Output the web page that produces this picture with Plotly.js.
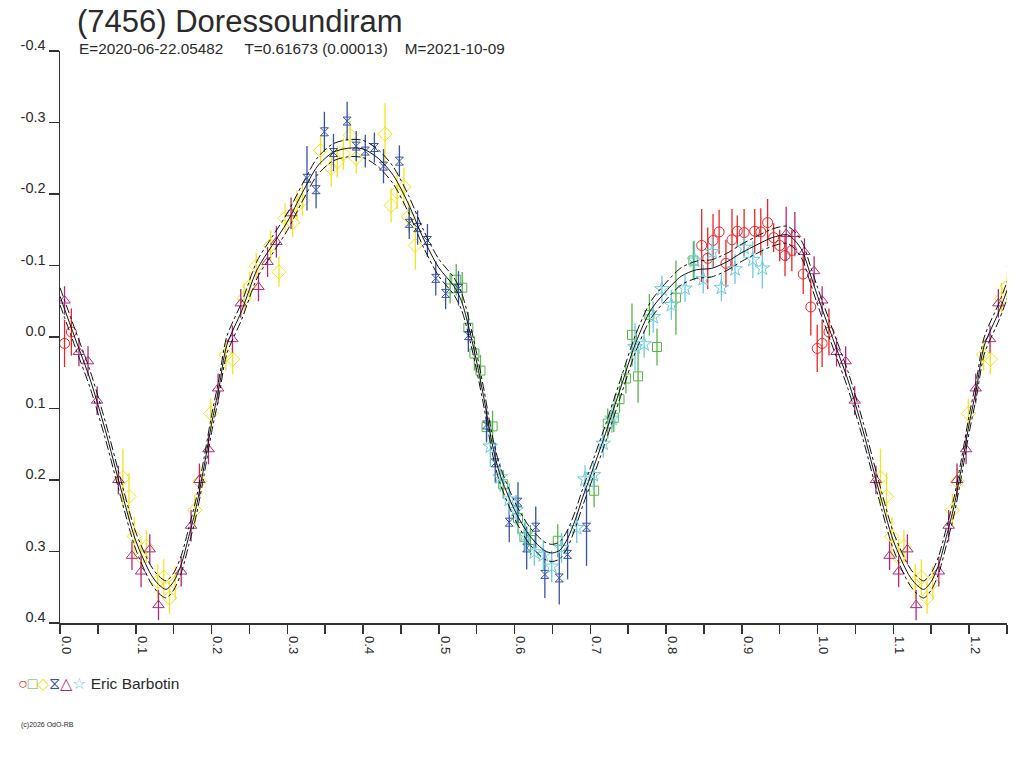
<!DOCTYPE html>
<html>
<head>
<meta charset="utf-8">
<script src="https://cdn.plot.ly/plotly-3.0.1.min.js"></script>
<style>
  body { margin: 0; background: #fff; }
  #lightcurve { width: 1024px; height: 768px; }
</style>
</head>
<body>
<div id="lightcurve"></div>
<script>
// Phase-folded light curve, phase 0..1 (points below 0.25 are repeated after 1.0)

// red circles
const redPhase = [0.006, 0.015, 0.847, 0.855, 0.862, 0.870, 0.879, 0.887, 0.894, 0.903, 0.917, 0.925, 0.934, 0.942, 0.950, 0.957, 0.966, 0.981, 0.991, 0.9995];
const redMag   = [0.009, -0.007, -0.128, -0.110, -0.135, -0.147, -0.103, -0.136, -0.148, -0.146, -0.148, -0.147, -0.160, -0.139, -0.128, -0.114, -0.121, -0.088, -0.042, 0.016];
const redErr   = [0.033, 0.033, 0.051, 0.043, 0.037, 0.031, 0.033, 0.043, 0.022, 0.033, 0.031, 0.033, 0.033, 0.020, 0.022, 0.029, 0.029, 0.028, 0.040, 0.033];

// green squares
const greenPhase = [0.515, 0.523, 0.531, 0.539, 0.547, 0.555, 0.563, 0.571, 0.585, 0.6045, 0.613, 0.621, 0.657, 0.705, 0.723, 0.731, 0.7385, 0.747, 0.755, 0.763, 0.778, 0.788, 0.813, 0.836];
const greenMag   = [-0.068, -0.080, -0.069, -0.013, 0.023, 0.047, 0.126, 0.125, 0.206, 0.253, 0.280, 0.284, 0.285, 0.215, 0.121, 0.113, 0.087, 0.058, -0.003, 0.055, -0.031, 0.014, -0.055, -0.107];
const greenErr   = [0.021, 0.022, 0.022, 0.022, 0.024, 0.022, 0.022, 0.022, 0.020, 0.023, 0.020, 0.021, 0.023, 0.023, 0.021, 0.020, 0.019, 0.021, 0.044, 0.037, 0.029, 0.026, 0.052, 0.027];

// yellow diamonds
const yellowPhase = [0.083, 0.091, 0.098, 0.107, 0.114, 0.129, 0.137, 0.1445, 0.152, 0.178, 0.1845, 0.199, 0.219, 0.228, 0.243, 0.2505, 0.259, 0.278, 0.289, 0.297, 0.307, 0.313, 0.320, 0.344, 0.358, 0.366, 0.374, 0.383, 0.391, 0.429, 0.437, 0.445, 0.454, 0.460, 0.469];
const yellowMag   = [0.197, 0.223, 0.279, 0.308, 0.293, 0.342, 0.336, 0.365, 0.344, 0.242, 0.202, 0.107, 0.025, 0.031, -0.054, -0.071, -0.099, -0.128, -0.091, -0.166, -0.160, -0.184, -0.191, -0.261, -0.236, -0.245, -0.256, -0.282, -0.250, -0.284, -0.184, -0.203, -0.210, -0.168, -0.128];
const yellowErr   = [0.041, 0.033, 0.027, 0.025, 0.023, 0.024, 0.025, 0.022, 0.023, 0.022, 0.022, 0.021, 0.022, 0.021, 0.022, 0.020, 0.019, 0.021, 0.021, 0.021, 0.020, 0.021, 0.021, 0.021, 0.026, 0.022, 0.022, 0.020, 0.021, 0.043, 0.024, 0.024, 0.027, 0.022, 0.034];

// blue hourglasses
const bluePhase = [0.326, 0.338, 0.349, 0.361, 0.379, 0.391, 0.403, 0.415, 0.427, 0.448, 0.461, 0.472, 0.485, 0.496, 0.509, 0.526, 0.539, 0.563, 0.5745, 0.593, 0.6045, 0.616, 0.628, 0.640, 0.659, 0.670, 0.695];
const blueMag   = [-0.222, -0.206, -0.287, -0.258, -0.302, -0.267, -0.260, -0.265, -0.239, -0.246, -0.159, -0.153, -0.135, -0.082, -0.061, -0.068, -0.002, 0.123, 0.176, 0.259, 0.231, 0.295, 0.266, 0.332, 0.337, 0.304, 0.266];
const blueErr   = [0.045, 0.026, 0.028, 0.026, 0.027, 0.021, 0.023, 0.021, 0.024, 0.022, 0.022, 0.024, 0.023, 0.024, 0.022, 0.024, 0.023, 0.023, 0.028, 0.028, 0.028, 0.030, 0.029, 0.033, 0.037, 0.035, 0.054];

// magenta triangles
const magentaPhase = [0.006, 0.025, 0.037, 0.049, 0.077, 0.095, 0.107, 0.1185, 0.130, 0.160, 0.173, 0.184, 0.196, 0.2087, 0.2276, 0.2386, 0.262, 0.274, 0.2856, 0.305, 0.9585, 0.970, 0.9826, 0.9954];
const magentaMag   = [-0.051, 0.021, 0.034, 0.089, 0.200, 0.306, 0.328, 0.297, 0.375, 0.328, 0.264, 0.200, 0.157, 0.072, 0.003, -0.047, -0.070, -0.105, -0.133, -0.173, -0.144, -0.144, -0.119, -0.092];
const magentaErr   = [0.020, 0.020, 0.021, 0.020, 0.020, 0.020, 0.022, 0.021, 0.021, 0.021, 0.022, 0.023, 0.021, 0.021, 0.019, 0.020, 0.020, 0.021, 0.022, 0.022, 0.038, 0.031, 0.019, 0.021];

// cyan stars
const cyanPhase = [0.568, 0.581, 0.593, 0.602, 0.614, 0.626, 0.638, 0.649, 0.662, 0.682, 0.693, 0.704, 0.717, 0.7285, 0.759, 0.771, 0.783, 0.7945, 0.807, 0.825, 0.8375, 0.849, 0.861, 0.873, 0.891, 0.903, 0.9145, 0.927];
const cyanMag   = [0.153, 0.196, 0.227, 0.242, 0.277, 0.301, 0.305, 0.321, 0.295, 0.267, 0.199, 0.193, 0.149, 0.114, 0.014, 0.010, -0.028, -0.067, -0.045, -0.068, -0.107, -0.081, -0.119, -0.069, -0.095, -0.125, -0.108, -0.096];
const cyanErr   = [0.029, 0.020, 0.022, 0.021, 0.022, 0.019, 0.021, 0.022, 0.021, 0.021, 0.020, 0.021, 0.020, 0.020, 0.033, 0.019, 0.022, 0.019, 0.021, 0.019, 0.028, 0.020, 0.021, 0.019, 0.021, 0.014, 0.026, 0.028];

// fitted curve
const fitPhase = [0.00, 0.02, 0.04, 0.06, 0.08, 0.10, 0.12, 0.13, 0.14, 0.15, 0.16, 0.17, 0.18, 0.19, 0.20, 0.21, 0.22, 0.24, 0.26, 0.28, 0.30, 0.32, 0.34, 0.36, 0.38, 0.40, 0.42, 0.44, 0.46, 0.48, 0.50, 0.52, 0.53, 0.54, 0.55, 0.56, 0.57, 0.58, 0.60, 0.62, 0.64, 0.65, 0.66, 0.67, 0.68, 0.69, 0.70, 0.72, 0.74, 0.76, 0.78, 0.80, 0.82, 0.84, 0.86, 0.88, 0.90, 0.92, 0.94, 0.96, 0.97, 0.98, 0.99, 1.00];
const fitMag   = [-0.057, 0.002, 0.060, 0.131, 0.211, 0.285, 0.332, 0.346, 0.353, 0.342, 0.318, 0.279, 0.237, 0.182, 0.122, 0.070, 0.012, -0.037, -0.094, -0.128, -0.161, -0.202, -0.239, -0.258, -0.264, -0.263, -0.250, -0.226, -0.186, -0.137, -0.097, -0.071, -0.050, -0.012, 0.035, 0.088, 0.147, 0.190, 0.242, 0.278, 0.299, 0.302, 0.298, 0.282, 0.256, 0.224, 0.195, 0.135, 0.071, 0.008, -0.038, -0.064, -0.085, -0.094, -0.096, -0.105, -0.118, -0.129, -0.139, -0.143, -0.135, -0.120, -0.089, -0.057];
const fitBand  = 0.012;

const xTickVals = [0, 0.05, 0.1, 0.15, 0.2, 0.25, 0.3, 0.35, 0.4, 0.45, 0.5, 0.55, 0.6, 0.65, 0.7, 0.75, 0.8, 0.85, 0.9, 0.95, 1.0, 1.05, 1.1, 1.15, 1.2, 1.25];
const xTickText = ['0.0', '', '0.1', '', '0.2', '', '0.3', '', '0.4', '', '0.5', '', '0.6', '', '0.7', '', '0.8', '', '0.9', '', '1.0', '', '1.1', '', '1.2', ''];
const yTickVals = [-0.4, -0.3, -0.2, -0.1, 0, 0.1, 0.2, 0.3, 0.4];
const yTickText = ['-0.4', '-0.3', '-0.2', '-0.1', '0.0', '0.1', '0.2', '0.3', '0.4'];

const FONT = 'Liberation Sans, Arial, sans-serif';
const INK = '#2a2a2a';

// repeat the first quarter of the cycle after phase 1
function fold(ph, mg, er) {
  const x = [], y = [], e = [];
  ph.forEach((p, i) => {
    x.push(p); y.push(mg[i]); e.push(er[i]);
    if (p <= 0.26) { x.push(p + 1); y.push(mg[i]); e.push(er[i]); }
  });
  return { x, y, e };
}

function series(ph, mg, er, symbol, size, color) {
  const d = fold(ph, mg, er);
  return {
    x: d.x, y: d.y, type: 'scatter', mode: 'markers',
    marker: { symbol: symbol, size: size, color: color, line: { width: 1, color: color } },
    error_y: { type: 'data', array: d.e, visible: true, color: color, thickness: 1.3, width: 0 },
    hoverinfo: 'skip', showlegend: false
  };
}

const fitX = [], fitY = [];
fitPhase.forEach((p, i) => { fitX.push(p); fitY.push(fitMag[i]); });
fitPhase.forEach((p, i) => { if (p > 0 && p <= 0.26) { fitX.push(p + 1); fitY.push(fitMag[i]); } });

function fitLine(offset, dash) {
  return {
    x: fitX, y: fitY.map(v => v + offset), type: 'scatter', mode: 'lines',
    line: { color: '#111', width: 1, dash: dash, shape: 'spline', smoothing: 0.8 },
    hoverinfo: 'skip', showlegend: false
  };
}

const data = [
  series(redPhase, redMag, redErr, 'circle-open', 10, '#ee2424'),
  series(greenPhase, greenMag, greenErr, 'square-open', 9, '#57b647'),
  series(yellowPhase, yellowMag, yellowErr, 'diamond-open', 11, '#f4e41a'),
  series(bluePhase, blueMag, blueErr, 'hourglass-open', 8, '#3552a8'),
  series(magentaPhase, magentaMag, magentaErr, 'triangle-up-open', 10, '#b4287c'),
  series(cyanPhase, cyanMag, cyanErr, 'star-open', 11, '#6accdf'),
  fitLine(-fitBand, 'dashdot'),
  fitLine(fitBand, 'dashdot'),
  fitLine(0, 'solid')
];

const sym = (c, s) => '<span style="color:' + c + ';font-size:16px">' + s + '</span>';
const legendText =
  sym('#ee2424', '○') + sym('#57b647', '□') + sym('#f4e41a', '◇') +
  sym('#3552a8', '⧖') + sym('#b4287c', '△') + sym('#6accdf', '☆') +
  ' Eric Barbotin';

const layout = {
  width: 1024, height: 768,
  margin: { l: 60, r: 17, t: 51, b: 145 },
  paper_bgcolor: 'white', plot_bgcolor: 'white',
  font: { family: FONT, color: INK },
  showlegend: false,
  title: {
    text: '(7456) Doressoundiram',
    font: { family: FONT, size: 31, color: INK },
    xref: 'container', yref: 'container',
    x: 77 / 1024, xanchor: 'left', y: 1 - 21 / 768, yanchor: 'middle'
  },
  xaxis: {
    range: [0, 1.25], showgrid: false, zeroline: false,
    showline: true, linecolor: '#333', linewidth: 1.5,
    tickmode: 'array', tickvals: xTickVals, ticktext: xTickText,
    ticks: 'outside', ticklen: 9, tickwidth: 1.5, tickcolor: '#333',
    tickangle: 90, ticklabelshift: 6,
    tickfont: { family: FONT, size: 13, color: INK }
  },
  yaxis: {
    range: [0.4, -0.4], showgrid: false, zeroline: false,
    showline: true, linecolor: '#333', linewidth: 1.5,
    tickmode: 'array', tickvals: yTickVals, ticktext: yTickText,
    ticks: 'outside', ticklen: 10, tickwidth: 1.5, tickcolor: '#333',
    ticklabelshift: 6,
    tickfont: { family: FONT, size: 14.5, color: INK }
  },
  annotations: [
    {
      text: 'E=2020-06-22.05482\u00a0\u00a0\u00a0\u00a0\u00a0T=0.61673 (0.00013)\u00a0\u00a0\u00a0\u00a0M=2021-10-09',
      xref: 'paper', yref: 'paper', x: 0.018, y: 1.005, xanchor: 'left', yanchor: 'middle',
      showarrow: false, font: { family: FONT, size: 15.3, color: INK }
    },
    {
      text: legendText,
      xref: 'paper', yref: 'paper', x: -0.046, y: -0.105, xanchor: 'left', yanchor: 'middle',
      showarrow: false, font: { family: FONT, size: 15.5, color: INK }
    },
    {
      text: '(c)2026 OdO-RB',
      xref: 'paper', yref: 'paper', x: -0.043, y: -0.179, xanchor: 'left', yanchor: 'middle',
      showarrow: false, font: { family: FONT, size: 7, color: INK }
    }
  ]
};

Plotly.newPlot('lightcurve', data, layout, { displayModeBar: false, staticPlot: true });
</script>
</body>
</html>
